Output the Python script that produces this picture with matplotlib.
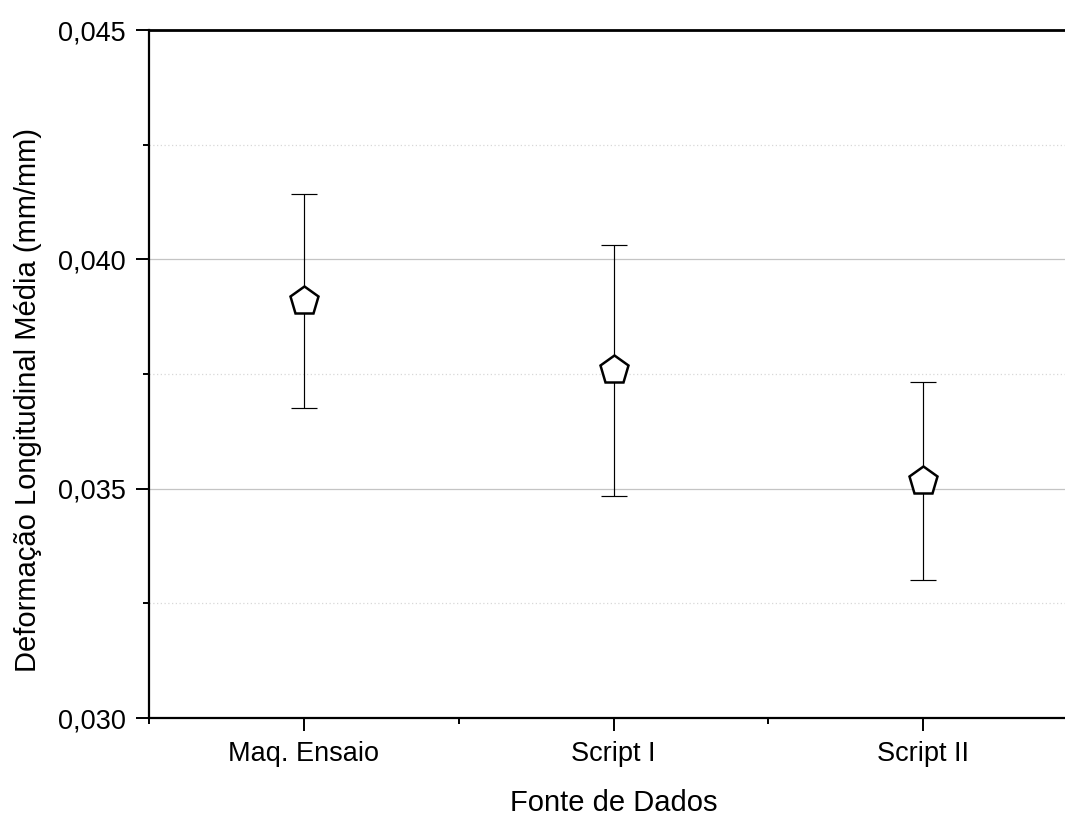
import matplotlib
matplotlib.use("Agg")
import matplotlib.pyplot as plt
from matplotlib.ticker import FixedLocator, FuncFormatter

categories = ["Maq. Ensaio", "Script I", "Script II"]
means = [0.03909, 0.03758, 0.03517]
errors = [0.00233, 0.00273, 0.00216]
y_major = [0.030, 0.035, 0.040, 0.045]
y_minor = [0.0325, 0.0375, 0.0425]

plt.rcParams['font.family'] = ['Liberation Sans', 'DejaVu Sans']

fig = plt.figure(figsize=(10.65, 8.16), dpi=100)
ax = fig.add_axes([149/1065, 98/816, (1078-149)/1065, 688/816])

x = list(range(1, len(categories) + 1))
ax.errorbar(x, means, yerr=errors, fmt='none', ecolor='black',
            elinewidth=0.85, capsize=9.4, capthick=0.85, zorder=3)
ax.plot(x, means, linestyle='none', marker='p', markersize=21,
        markerfacecolor='white', markeredgecolor='black',
        markeredgewidth=1.8, zorder=4)

ax.set_xlim(0.5, 3.5)
ax.set_ylim(0.030, 0.045)

ax.yaxis.set_major_locator(FixedLocator(y_major))
ax.yaxis.set_minor_locator(FixedLocator(y_minor))
ax.yaxis.set_major_formatter(FuncFormatter(lambda v, p: f"{v:.3f}".replace('.', ',')))
ax.xaxis.set_major_locator(FixedLocator(x))
ax.xaxis.set_minor_locator(FixedLocator([0.5, 1.5, 2.5, 3.5]))
ax.set_xticklabels(categories)

for yv in [0.035, 0.040]:
    ax.axhline(yv, color='#c4c4c4', linewidth=0.9, zorder=1)
for yv in y_minor:
    ax.axhline(yv, color='#d8d8d8', linewidth=0.9, linestyle=(0, (1, 2)), zorder=1)

ax.spines['right'].set_visible(False)
ax.spines['left'].set_linewidth(1.6)
ax.spines['bottom'].set_linewidth(1.6)
ax.spines['top'].set_linewidth(2.0)

ax.tick_params(axis='both', which='major', direction='out', length=9.5,
               width=1.4, labelsize=19.5, pad=7)
ax.tick_params(axis='both', which='minor', direction='out', length=4.5, width=1.4)
ax.tick_params(axis='x', which='both', top=False)
ax.tick_params(axis='y', which='both', right=False)

ax.set_xlabel("Fonte de Dados", fontsize=21, labelpad=16)
ax.set_ylabel("Deformação Longitudinal Média (mm/mm)", fontsize=21)
ax.yaxis.set_label_coords(-0.115, 0.462)

fig.savefig("out.png", dpi=100)
